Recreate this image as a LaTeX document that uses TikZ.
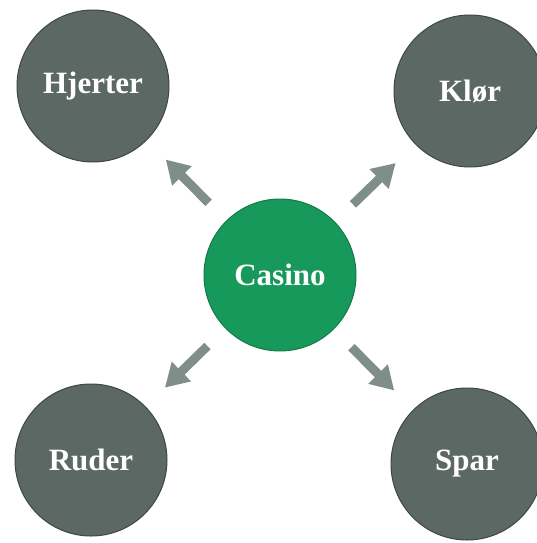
\documentclass[tikz,border=0pt]{standalone}
\usepackage{fontspec}
\setmainfont{Liberation Serif}
\usepackage{xcolor}
\usetikzlibrary{arrows.meta}
\definecolor{suit}{HTML}{5C6864}
\definecolor{suitedge}{HTML}{3E4744}
\definecolor{casino}{HTML}{16995A}
\definecolor{arrowc}{HTML}{7F8E88}
\tikzset{
  suitnode/.style={circle,draw=suitedge,line width=1pt,fill=suit,minimum size=152pt,inner sep=0pt,text=white,font=\fontsize{31}{33}\selectfont\bfseries},
  hub/.style={suitnode,fill=casino,draw=casino!80!black},
  arr/.style={-{Triangle[width=26pt,length=23pt]},line width=9pt,arrowc,shorten <=25pt,shorten >=27pt},
}
\begin{document}
\begin{tikzpicture}[x=1pt,y=-1pt]
\useasboundingbox (0,0) rectangle (536,543);
\node[hub] (casino) at (280,275) {Casino};
\node[suitnode] (hjerter) at (93,86) {Hjerter};
\node[suitnode] (klor) at (470,91) {Klør};
\node[suitnode] (ruder) at (91,460) {Ruder};
\node[suitnode] (spar) at (467,464) {Spar};
\draw[arr] (casino) -- (hjerter);
\draw[arr] (casino) -- (klor);
\draw[arr] (casino) -- (ruder);
\draw[arr] (casino) -- (spar);
\end{tikzpicture}
\end{document}
